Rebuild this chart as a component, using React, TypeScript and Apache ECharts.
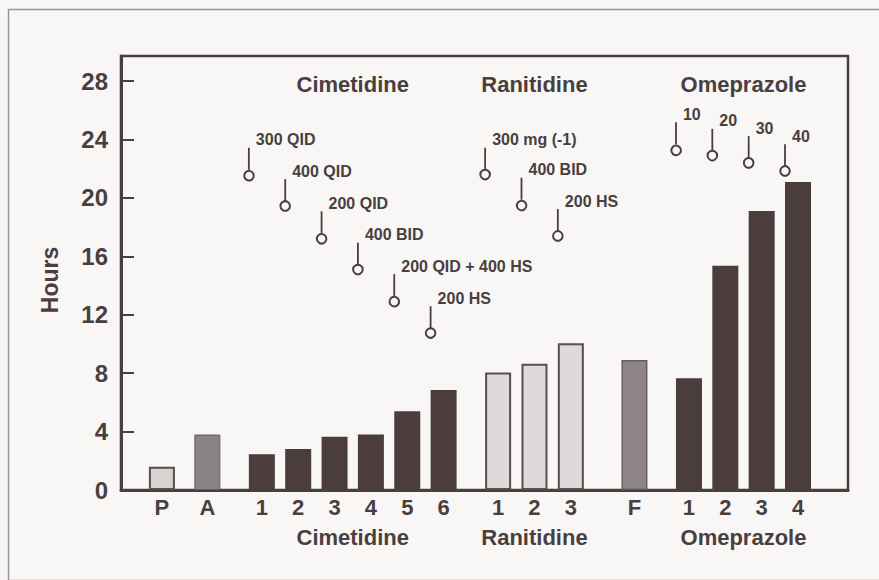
import React, { useEffect, useRef } from "react";
import * as echarts from "echarts";

// ---- data ----
const barLabels = ["P", "A", "1", "2", "3", "4", "5", "6", "1", "2", "3", "F", "1", "2", "3", "4"];
const hours = [1.6, 3.8, 2.45, 2.8, 3.65, 3.8, 5.4, 6.85, 8.05, 8.65, 10.05, 8.9, 7.65, 15.35, 19.1, 21.1];
const groupNames = ["", "", "Cimetidine", "Ranitidine", "", "Omeprazole"];
const groupSizes = [1, 1, 6, 3, 1, 4];
const doseLabels = ["300 QID", "400 QID", "200 QID", "400 BID", "200 QID + 400 HS", "200 HS", "300 mg (-1)", "400 BID", "200 HS", "10", "20", "30", "40"];
const doseHours = [21.6, 19.45, 17.25, 15.1, 12.95, 10.75, 21.6, 19.55, 17.4, 23.35, 22.9, 22.4, 21.85];
const doseBar = [2, 3, 4, 5, 6, 7, 8, 9, 10, 12, 13, 14, 15];
const yTicks = [0, 4, 8, 12, 16, 20, 24, 28];

// ---- layout / style ----
const INK = "#4a3e3f";
const FONT = "'Liberation Sans', Arial, sans-serif";
const SLOT_STEP = 4;
const GROUP_GAPS = [4, 5, 6, 6, 7, 6];
const TOTAL_SLOTS = 80;
const BAR_W = 26;
const Y_MAX = 29.72;
const groupStyle = [
  { color: "#d7d3d2", borderColor: "#5a4d4e", borderWidth: 2 },
  { color: "#8b8383", borderColor: "#6a5d5e", borderWidth: 1 },
  { color: "#4b3d3e", borderColor: "#4b3d3e", borderWidth: 0 },
  { color: "#dedad9", borderColor: "#5a4d4e", borderWidth: 2 },
  { color: "#8e8686", borderColor: "#6a5d5e", borderWidth: 1.5 },
  { color: "#4b3d3e", borderColor: "#4b3d3e", borderWidth: 0 },
];

export default function App() {
  const ref = useRef<HTMLDivElement>(null);
  useEffect(() => {
    if (!ref.current) return;
    const chart = echarts.init(ref.current, null, { renderer: "svg" });

    // slot index per bar and group of each bar
    const barSlot: number[] = [];
    const barGroup: number[] = [];
    const groupCenter: number[] = [];
    let slot = 0;
    groupSizes.forEach((n, g) => {
      slot += GROUP_GAPS[g];
      const first = slot;
      for (let k = 0; k < n; k++) {
        barSlot.push(slot);
        barGroup.push(g);
        if (k < n - 1) slot += SLOT_STEP;
      }
      groupCenter.push((first + slot) / 2);
    });
    const slotLabels: string[] = new Array(TOTAL_SLOTS).fill("");
    barSlot.forEach((s, i) => (slotLabels[s] = barLabels[i]));
    const groupLabels: string[] = new Array(TOTAL_SLOTS).fill("");
    groupNames.forEach((n, g) => {
      if (n) groupLabels[Math.round(groupCenter[g])] = n;
    });

    const barData = hours.map((h, i) => ({
      value: [barSlot[i], h],
      itemStyle: groupStyle[barGroup[i]],
    }));
    const doseData = doseHours.map((h, i) => [barSlot[doseBar[i]], h]);

    chart.setOption({
      animation: false,
      backgroundColor: "#f8f7f5",
      textStyle: { fontFamily: FONT },
      graphic: [
        {
          type: "rect",
          left: 6,
          top: 7,
          shape: { width: 872, height: 571 },
          style: { fill: "none", stroke: "#9a9494", lineWidth: 1.5 },
          silent: true,
        },
      ],
      grid: {
        left: 121,
        right: 31,
        top: 56,
        bottom: 90,
        show: true,
        borderColor: INK,
        borderWidth: 2.5,
        backgroundColor: "transparent",
      },
      xAxis: [
        {
          type: "category",
          data: slotLabels,
          position: "bottom",
          axisLine: { show: true, lineStyle: { color: INK, width: 3 } },
          axisTick: { show: false },
          axisLabel: { interval: 0, color: INK, fontSize: 22, fontWeight: "bold", margin: 6 },
          splitLine: { show: false },
        },
        {
          type: "category",
          data: groupLabels,
          position: "bottom",
          axisLine: { show: false },
          axisTick: { show: false },
          axisLabel: { interval: 0, color: INK, fontSize: 22, fontWeight: "bold", margin: 36 },
        },
        {
          type: "category",
          data: groupLabels,
          position: "top",
          axisLine: { show: false },
          axisTick: { show: false },
          axisLabel: { interval: 0, inside: true, color: INK, fontSize: 22, fontWeight: "bold", margin: 17 },
        },
      ],
      yAxis: {
        type: "value",
        min: 0,
        max: Y_MAX,
        interval: 4,
        name: "Hours",
        nameLocation: "middle",
        nameGap: 60,
        nameTextStyle: { color: INK, fontSize: 23, fontWeight: "bold", padding: [0, 14, 0, 0] },
        axisLine: { show: true, lineStyle: { color: INK, width: 3 } },
        axisTick: { show: true, inside: true, length: 13, lineStyle: { color: INK, width: 2 } },
        axisLabel: {
          color: INK,
          fontSize: 24,
          fontWeight: "bold",
          margin: 13,
          showMaxLabel: false,
          formatter: (v: number) => (yTicks.includes(v) ? String(v) : ""),
        },
        splitLine: { show: false },
      },
      series: [
        {
          type: "bar",
          xAxisIndex: 0,
          barWidth: BAR_W,
          data: barData,
        },
        {
          type: "custom",
          xAxisIndex: 0,
          data: doseData,
          renderItem: (params: any, api: any) => {
            const p = api.coord([api.value(0), api.value(1)]);
            const x = p[0] - BAR_W / 2;
            const y = p[1];
            const r = 4.8;
            const stem = 22;
            const top = y - r - stem;
            return {
              type: "group",
              children: [
                { type: "line", shape: { x1: x, y1: y - r, x2: x, y2: top }, style: { stroke: INK, lineWidth: 1.8 } },
                { type: "circle", shape: { cx: x, cy: y, r }, style: { fill: "none", stroke: INK, lineWidth: 2 } },
                {
                  type: "text",
                  x: x + 7,
                  y: top - 8,
                  style: {
                    text: doseLabels[params.dataIndex],
                    fill: INK,
                    font: `bold 16px ${FONT}`,
                    align: "left",
                    verticalAlign: "middle",
                  },
                },
              ],
            };
          },
        },
      ],
    });
    return () => chart.dispose();
  }, []);
  return <div ref={ref} style={{ position: "fixed", left: 0, top: 0, width: 879, height: 580 }} />;
}
